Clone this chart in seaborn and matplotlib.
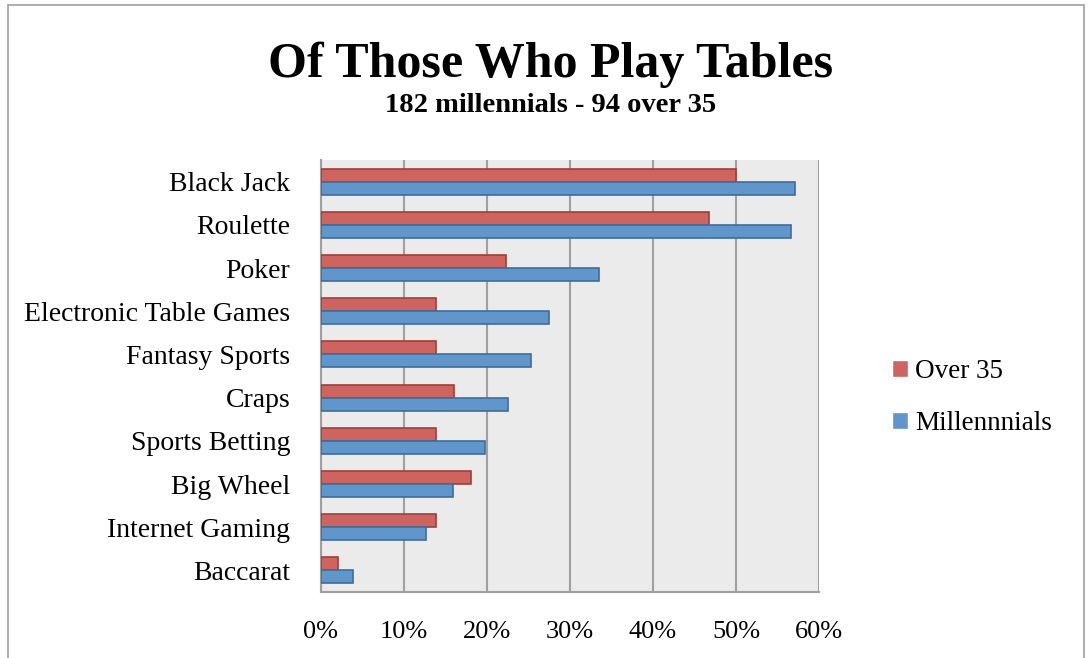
import matplotlib
matplotlib.use("Agg")
import matplotlib.pyplot as plt
import seaborn as sns
import pandas as pd
from matplotlib.patches import Rectangle
from matplotlib.ticker import PercentFormatter

categories = ["Black Jack", "Roulette", "Poker", "Electronic Table Games", "Fantasy Sports",
              "Craps", "Sports Betting", "Big Wheel", "Internet Gaming", "Baccarat"]
over35 = [50.0, 46.8, 22.3, 13.8, 13.8, 16.0, 13.8, 18.1, 13.8, 2.1]
millennials = [57.1, 56.6, 33.5, 27.5, 25.3, 22.5, 19.8, 15.9, 12.6, 3.8]
series = ["Over 35", "Millennnials"]

df = pd.DataFrame({
    "category": categories * 2,
    "value": over35 + millennials,
    "series": [series[0]] * len(categories) + [series[1]] * len(categories),
})

sns.set_theme(style="white")
plt.rcParams["font.family"] = ["Liberation Serif", "DejaVu Serif"]
plt.rcParams["text.color"] = "black"

fig = plt.figure(figsize=(10.88, 6.58), dpi=100)
ax = fig.add_axes([321/1088, 1 - 592/658, (819-321)/1088, (592-160)/658])
ax.set_facecolor("#EBEBEB")

palette = {"Over 35": "#CD6460", "Millennnials": "#6096CA"}
sns.barplot(data=df, x="value", y="category", hue="series", hue_order=series,
            order=categories, palette=palette, orient="h", width=0.6,
            saturation=1, ax=ax, zorder=3)

edges = {"Over 35": "#9E3F3B", "Millennnials": "#3D6C9E"}
for cont, s in zip(ax.containers, series):
    for bar in cont:
        bar.set_edgecolor(edges[s])
        bar.set_linewidth(1.2)

ax.set_xlim(0, 60)
ax.set_ylim(9.5, -0.5)
ax.set_xticks(range(0, 61, 10))
ax.xaxis.set_major_formatter(PercentFormatter(decimals=0))
ax.grid(axis="x", color="#A0A0A0", linewidth=1.5, zorder=0)
ax.set_axisbelow(True)
for sp in ["top", "right"]:
    ax.spines[sp].set_visible(False)
for sp in ["left", "bottom"]:
    ax.spines[sp].set_color("#A0A0A0")
    ax.spines[sp].set_linewidth(1.5)
ax.tick_params(axis="y", length=0, labelsize=20, colors="black", pad=22)
ax.tick_params(axis="x", length=0, labelsize=19, colors="black", pad=21)
for lbl in ax.get_yticklabels():
    lbl.set_y(lbl.get_position()[1])
ax.set_xlabel("")
ax.set_ylabel("")

handles, labels = ax.get_legend_handles_labels()
ax.legend(handles, labels, loc="center left", bbox_to_anchor=(1.098, 0.45),
          frameon=False, fontsize=19.5, labelspacing=1.0, handlelength=0.6,
          handleheight=0.6, handletextpad=0.25)

fig.text(551/1088, 1 - 65/658, "Of Those Who Play Tables", ha="center", va="center",
         fontsize=36, fontweight="bold", color="black")
fig.text(551/1088, 1 - 106/658, "182 millennials - 94 over 35", ha="center", va="center",
         fontsize=20.5, fontweight="bold", color="black")

fig.patches.append(Rectangle((8/1088, -0.01), 1076/1088, 1 - 5/658 + 0.01,
                             transform=fig.transFigure, fill=False,
                             edgecolor="#A0A0A0", linewidth=1.2))

fig.savefig("out.png", dpi=100)
